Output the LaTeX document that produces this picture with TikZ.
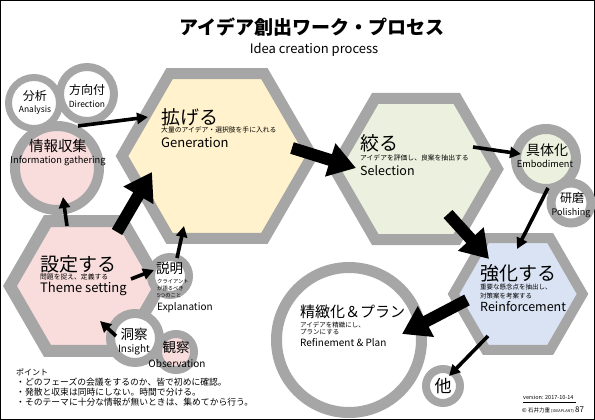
\documentclass[tikz,border=0pt]{standalone}
\usepackage{fontspec}
\setmainfont{Noto Sans CJK JP}
\usetikzlibrary{shapes.geometric,arrows.meta}

\definecolor{ringgray}{HTML}{A6A6A6}
\definecolor{genfill}{HTML}{FFF2CC}
\definecolor{selfill}{HTML}{EBF1DE}
\definecolor{themefill}{HTML}{F9DCDC}
\definecolor{reinfill}{HTML}{DAE3F3}
\newcommand{\fsz}[1]{\fontsize{#1}{#1}\selectfont}

\tikzset{
  hexa/.style={regular polygon, regular polygon sides=6, draw=ringgray, line width=11pt, inner sep=0pt},
  ring/.style={circle, draw=ringgray, fill=white, inner sep=0pt},
  thinarrow/.style={-{Triangle[length=11pt,width=11pt]}, line width=3.6pt},
  thickarrow/.style={-{Triangle[length=27pt,width=33pt]}, line width=12pt},
  head/.style={anchor=west, inner sep=0pt, font=\fsz{19}},
  note/.style={anchor=west, inner sep=0pt, font=\fsz{6.8}},
  eng/.style={anchor=west, inner sep=0pt, font=\fsz{13}},
  ctext/.style={inner sep=0pt}
}

\begin{document}
\begin{tikzpicture}[x=1pt,y=-1pt]
\useasboundingbox (0,0) rectangle (595,420);
\draw[line width=1pt] (0.5,0.5) rectangle (594.5,419.5);

% title
\node[ctext, font=\fsz{19}\bfseries] (title) at (312,27) {アイデア創出ワーク・プロセス};
\node[ctext, font=\fsz{13}] (subtitle) at (314,50) {Idea creation process};

% hexagons
\node[hexa, fill=genfill, minimum size=190pt] (gen) at (217,156) {};
\node[hexa, fill=selfill, minimum size=163pt] (sel) at (416,169) {};
\node[hexa, fill=themefill, minimum size=150pt, line width=12pt] (theme) at (85,286) {};
\node[hexa, fill=reinfill, minimum size=129pt, line width=10pt] (rein) at (518,294) {};

% circles
\node[ring, fill=themefill, minimum size=84pt, line width=10pt] (info) at (57,168) {};
\node[ring, minimum size=51pt, line width=7pt] (ana) at (34,103) {};
\node[ring, minimum size=54pt, line width=8pt] (dir) at (87,94) {};
\node[ring, minimum size=38pt, line width=8pt] (expl) at (170,276) {};
\node[ring, minimum size=49pt, line width=9pt] (ins) at (135,338) {};
\node[ring, fill=themefill, minimum size=36pt, line width=8pt] (obs) at (176,352) {};
\node[ring, fill=selfill, minimum size=60pt, line width=10pt] (emb) at (546,159) {};
\node[ring, minimum size=40pt, line width=9pt] (pol) at (571,203) {};
\node[ring, minimum size=34pt, line width=8pt] (oth) at (443,386) {};
\node[ring, minimum size=145pt, line width=11pt] (refine) at (349,340) {};

% hexagon texts
\node[head] (gen-h) at (161,117) {拡げる};
\node[note] (gen-n) at (161,130) {大量のアイデア・選択肢を手に入れる};
\node[eng] (gen-e) at (161,143) {Generation};

\node[head] (sel-h) at (360,143) {絞る};
\node[note] (sel-n) at (360,158) {アイデアを評価し、良案を抽出する};
\node[eng, font=\fsz{12.5}] (sel-e) at (360,171) {Selection};

\node[head] (theme-h) at (40,264) {設定する};
\node[note] (theme-n) at (40,277) {問題を捉え、定義する};
\node[eng] (theme-e) at (40,289) {Theme setting};

\node[head] (rein-h) at (480,273) {強化する};
\node[note, align=left, font=\fsz{6.5}] (rein-n) at (480,291.5) {重要な懸念点を抽出し、\\[2.5pt]対策案を考案する};
\node[eng, font=\fsz{12.5}] (rein-e) at (480,307) {Reinforcement};

\node[head, font=\fsz{15}] (refine-h) at (300,312) {精緻化＆プラン};
\node[note, align=left, font=\fsz{6.5}] (refine-n) at (300,328.5) {アイデアを精緻にし、\\[1pt]プランにする};
\node[eng, font=\fsz{10}] (refine-e) at (300,343) {Refinement \& Plan};

% circle texts
\node[ctext, font=\fsz{12}] (ana-j) at (35,96) {分析};
\node[ctext, font=\fsz{8.5}] (ana-e) at (35,110) {Analysis};
\node[ctext, font=\fsz{12}] (dir-j) at (87,90) {方向付};
\node[ctext, font=\fsz{8.5}] (dir-e) at (87,104) {Direction};
\node[ctext, font=\fsz{14.5}] (info-j) at (58,146) {情報収集};
\node[ctext, font=\fsz{9.3}] (info-e) at (58,161) {Information gathering};
\node[ctext, font=\fsz{13.5}, anchor=west] (expl-j) at (156,268) {説明};
\node[ctext, font=\fsz{5.3}, anchor=north west, align=left] (expl-n) at (157,279) {クライアント\\[1.5pt]が語るべき\\[1.5pt]5つのこと};
\node[ctext, font=\fsz{10}, anchor=west] (expl-e) at (157,308) {Explanation};
\node[ctext, font=\fsz{13.5}] (ins-j) at (134,334) {洞察};
\node[ctext, font=\fsz{10}] (ins-e) at (134,350) {Insight};
\node[ctext, font=\fsz{13.5}] (obs-j) at (176,347) {観察};
\node[ctext, font=\fsz{10}] (obs-e) at (177,364) {Observation};
\node[ctext, font=\fsz{14}] (emb-j) at (547,150) {具体化};
\node[ctext, font=\fsz{9.2}] (emb-e) at (545,164) {Embodiment};
\node[ctext, font=\fsz{12}] (pol-j) at (572,198) {研磨};
\node[ctext, font=\fsz{9}] (pol-e) at (571,213) {Polishing};
\node[ctext, font=\fsz{17}] (oth-j) at (443,386) {他};

% arrows
\draw[thinarrow] ([shift={(21,-42)}]info.center) -- ([shift={(-69,-39)}]gen.center);
\draw[thinarrow] ([shift={(-18,-60)}]theme.center) -- ([shift={(6,29)}]info.center);
\draw[thickarrow] ([shift={(32,-54)}]theme.center) -- ([shift={(-65,16)}]gen.center);
\draw[thinarrow] ([shift={(7,-18)}]expl.center) -- ([shift={(-33,70)}]gen.center);
\draw[thinarrow] ([shift={(46,-7)}]theme.center) -- ([shift={(-16,-6)}]expl.center);
\draw[thinarrow] ([shift={(-19,-2)}]ins.center) -- ([shift={(15,35)}]theme.center);
\draw[thickarrow] ([shift={(75,-8)}]gen.center) -- ([shift={(-60,-1)}]sel.center);
\draw[thinarrow] ([shift={(57,-22)}]sel.center) -- ([shift={(-25,-5)}]emb.center);
\draw[thickarrow] ([shift={(32,45)}]sel.center) -- ([shift={(-29,-35)}]rein.center);
\draw[thinarrow] ([shift={(-23,-15)}]pol.center) -- ([shift={(-1,-45)}]rein.center);
\draw[thickarrow] ([shift={(-51,6)}]rein.center) -- ([shift={(53,-6)}]refine.center);
\draw[thinarrow] ([shift={(-30,42)}]rein.center) -- ([shift={(6,-10)}]oth.center);

% points
\node[ctext, anchor=north west, align=left, font=\fsz{8.8}] (points) at (16,369)
{{\fsz{8}ポイント}\\[1pt]
・どのフェーズの会議をするのか、皆で初めに確認。\\[1pt]
・発散と収束は同時にしない。時間で分ける。\\[1pt]
・そのテーマに十分な情報が無いときは、集めてから行う。};

% version
\node[ctext, anchor=west, font=\fsz{5.5}] (ver) at (523,397) {version: 2017-10-14};
\coordinate (verl) at (523,402);
\coordinate (verr) at (576,402);
\draw[line width=0.6pt] (verl) -- (verr);
\node[ctext, anchor=west, font=\fsz{5.5}] (copy) at (522,410) {© 石井力重 {\fsz{3.8}(IDEAPLANT)} {\fsz{8}87}};
\end{tikzpicture}
\end{document}
